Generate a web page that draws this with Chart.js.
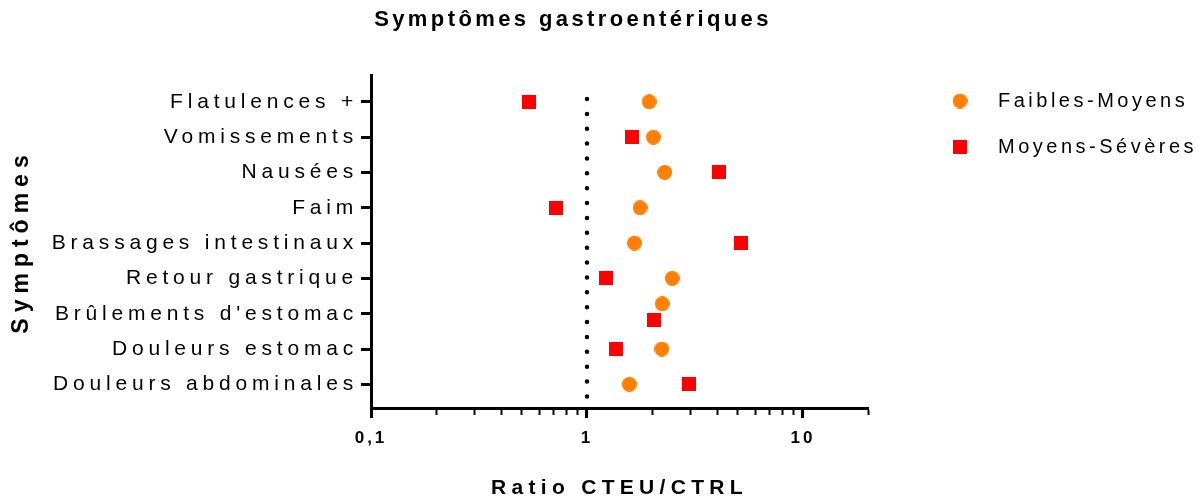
<!DOCTYPE html>
<html lang="fr">
<head>
<meta charset="utf-8">
<title>Symptômes gastroentériques</title>
<script src="https://cdn.jsdelivr.net/npm/chart.js@4/dist/chart.umd.min.js"></script>
<style>
  html, body { margin: 0; padding: 0; background: #fff; }
  canvas { display: block; }
</style>
</head>
<body>
<canvas id="chart" width="1204" height="501"></canvas>
<script>
// Données (ratio CTEU/CTRL, échelle log)
const symptomes = [
  'Flatulences +',
  'Vomissements',
  'Nausées',
  'Faim',
  'Brassages intestinaux',
  'Retour gastrique',
  "Brûlements d'estomac",
  'Douleurs estomac',
  'Douleurs abdominales'
];
const faiblesMoyens = [1.94, 2.03, 2.29, 1.76, 1.66, 2.48, 2.23, 2.22, 1.57];
const moyensSeveres = [0.54, 1.62, 4.07, 0.715, 5.15, 1.22, 2.04, 1.36, 2.98];

// Graduations de l'axe X
const xTicks = [0.1, 0.2, 0.3, 0.4, 0.5, 0.6, 0.7, 0.8, 0.9, 1, 2, 3, 4, 5, 6, 7, 8, 9, 10, 20];
const xTickLabels = { 0.1: '0,1', 1: '1', 10: '10' };

// Ligne de référence ratio = 1
const ratioRef = 1;

const FONT = "'Liberation Sans', Arial, sans-serif";
const ORANGE = '#FF8000';
const ROUGE = '#FF0000';

// Décalage vertical des deux séries quand elles se chevauchent (comme GraphPad)
const decalage = { 6: [-0.28, 0.17] };

// Espacement des lettres façon GraphPad, selon la police utilisée
const espacement = {
  'normal 21': 4.8, 'normal 20': 3.5,
  'bold 22': 3.4, 'bold 21': 5.3, 'bold 23': 6, 'bold 17': 3
};
const canvas = document.getElementById('chart');
const ctx = canvas.getContext('2d');
['fillText', 'measureText'].forEach(fn => {
  const orig = ctx[fn];
  ctx[fn] = function () {
    const m = /(\d+(?:\.\d+)?)px/.exec(this.font);
    const key = (/bold|700/.test(this.font) ? 'bold ' : 'normal ') + (m ? Math.round(+m[1]) : '');
    this.letterSpacing = (espacement[key] || 0) + 'px';
    return orig.apply(this, arguments);
  };
});

// Marqueurs : rond orange et carré rouge
const makeMarker = (size, draw) => {
  const c = document.createElement('canvas');
  c.width = size; c.height = size;
  draw(c.getContext('2d'), size);
  return c;
};
const rond = makeMarker(15, (g, s) => {
  g.fillStyle = ORANGE;
  g.beginPath(); g.arc(s / 2, s / 2, s / 2, 0, Math.PI * 2); g.fill();
});
const carre = makeMarker(14, (g, s) => {
  g.fillStyle = ROUGE;
  g.fillRect(0, 0, s, s);
});

const toPoints = (values, serie) => values.map((v, i) => ({
  x: v,
  y: i + (decalage[i] ? decalage[i][serie] : 0)
}));

// laisse un espace entre la zone du graphique et la légende
const ecartLegende = {
  id: 'ecartLegende',
  afterLayout(chart) {
    const lg = chart.legend;
    const w = lg.width;
    lg.left = chart.chartArea.right + 38;
    lg.right = lg.left + w;
  }
};

new Chart(canvas, {
  type: 'scatter',
  data: {
    datasets: [
      {
        label: 'Faibles-Moyens',
        data: toPoints(faiblesMoyens, 0),
        pointStyle: rond,
        pointRadius: 7.5,
        backgroundColor: ORANGE,
        borderColor: ORANGE
      },
      {
        label: 'Moyens-Sévères',
        data: toPoints(moyensSeveres, 1),
        pointStyle: carre,
        pointRadius: 7,
        backgroundColor: ROUGE,
        borderColor: ROUGE
      },
      {
        label: 'ref',
        data: [{ x: ratioRef, y: -0.08 }, { x: ratioRef, y: 8.35 }],
        showLine: true,
        pointRadius: 0,
        borderColor: '#000',
        borderWidth: 4.5,
        borderDash: [0, 14.87],
        borderCapStyle: 'round',
        order: 10
      }
    ]
  },
  plugins: [ecartLegende],
  options: {
    responsive: false,
    animation: false,
    devicePixelRatio: 1,
    layout: { padding: { left: -17, right: 41, top: 0, bottom: 0 } },
    plugins: {
      title: {
        display: true,
        text: 'Symptômes gastroentériques',
        color: '#000',
        font: { family: FONT, size: 22, weight: 'bold' },
        padding: { top: 7, bottom: 41.6 }
      },
      legend: {
        position: 'right',
        align: 'start',
        title: { display: true, text: ' ', font: { size: 10 }, padding: { top: 0, bottom: 53 } },
        labels: {
          usePointStyle: true,
          pointStyleWidth: 56,
          padding: 26,
          color: '#000',
          font: { family: FONT, size: 20 },
          filter: item => item.text !== 'ref'
        }
      },
      tooltip: { enabled: false }
    },
    scales: {
      x: {
        type: 'logarithmic',
        position: 'bottom',
        min: 0.1,
        max: 20,
        afterFit: s => { s.height = 93; },
        afterBuildTicks: axis => { axis.ticks = xTicks.map(v => ({ value: v, major: v in xTickLabels })); },
        border: { display: true, color: '#000', width: 3 },
        grid: {
          drawOnChartArea: false,
          drawTicks: true,
          tickLength: 10,
          tickColor: '#000',
          tickWidth: c => (c.tick && xTickLabels[c.tick.value] ? 3 : 2),
          tickBorderDash: c => (c.tick && xTickLabels[c.tick.value] ? [] : [5, 30])
        },
        ticks: {
          autoSkip: false,
          maxRotation: 0,
          padding: 10,
          color: '#000',
          font: { family: FONT, size: 17, weight: 'bold' },
          callback: v => xTickLabels[v] || ''
        },
        title: {
          display: true,
          text: 'Ratio CTEU/CTRL',
          color: '#000',
          font: { family: FONT, size: 21, weight: 'bold' },
          padding: { top: 0, bottom: 0 }
        }
      },
      y: {
        type: 'linear',
        position: 'left',
        reverse: true,
        clip: false,
        min: -0.76,
        max: 8.67,
        afterFit: s => { s.width = 388; },
        afterBuildTicks: axis => { axis.ticks = symptomes.map((_, i) => ({ value: i })); },
        border: { display: true, color: '#000', width: 3 },
        grid: {
          drawOnChartArea: false,
          drawTicks: true,
          tickLength: 10,
          tickWidth: 3,
          tickColor: '#000'
        },
        ticks: {
          autoSkip: false,
          padding: 3,
          color: '#000',
          font: { family: FONT, size: 21 },
          callback: v => symptomes[v]
        },
        title: {
          display: true,
          text: 'Symptômes',
          color: '#000',
          font: { family: FONT, size: 23, weight: 'bold' },
          padding: { top: 25.2, bottom: 0 }
        }
      }
    }
  }
});
</script>
</body>
</html>
